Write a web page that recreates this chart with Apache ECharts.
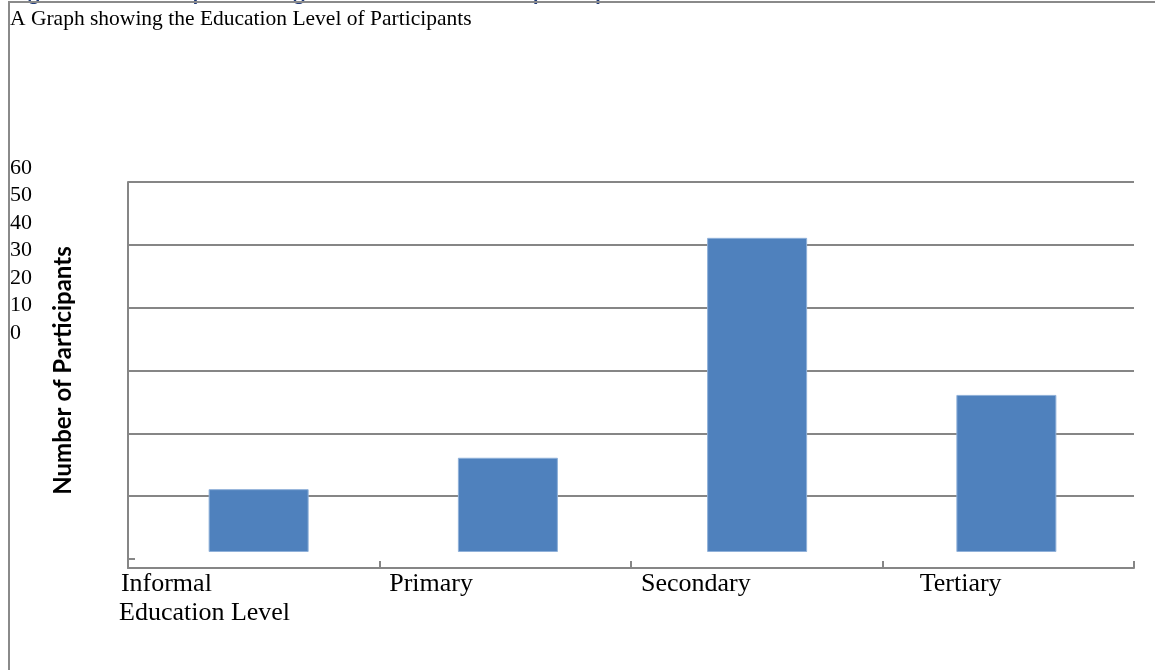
<!DOCTYPE html>
<html>
<head>
<meta charset="utf-8">
<script src="https://cdn.jsdelivr.net/npm/echarts@6/dist/echarts.min.js"></script>
<style>
  html, body { margin: 0; padding: 0; background: #fff; }
  #chart { position: absolute; left: 0; top: 0; width: 1155px; height: 670px; }
  .frameTop { position: absolute; left: 8px; top: 1px; width: 1147px; height: 2px; background: #8a8a8a; }
  .frameLeft { position: absolute; left: 8px; top: 1px; width: 2px; height: 669px; background: #8a8a8a; }
</style>
</head>
<body>
<div id="chart"></div>
<div class="frameTop"></div>
<div class="frameLeft"></div>
<script>
// ---- data ----
var categories = ['Informal', 'Primary', 'Secondary', 'Tertiary'];
var participants = [10, 15, 50, 25];
var yMin = 0;
var yMax = 60;
var yStep = 10;
var chartTitle = 'A Graph showing the Education Level of Participants';
var figureCaption = 'Figure 4.2: Bar Graph showing the Education Level of participants';
var xAxisTitle = 'Education Level';
var yAxisTitle = 'Number of Participants';

// ---- chart ----
var serif = '"Liberation Serif", "Times New Roman", serif';
var gray = '#868686';
var chart = echarts.init(document.getElementById('chart'), null, { renderer: 'canvas' });

chart.setOption({
  backgroundColor: 'transparent',
  animation: false,
  title: [
    { text: figureCaption, left: 10, top: -18, padding: 0,
      textStyle: { fontFamily: 'Lato, sans-serif', fontWeight: 'bold', fontSize: 22, color: '#1F3A7A' } },
    { text: chartTitle, left: 10, top: 8, padding: 0,
      textStyle: { fontFamily: serif, fontWeight: 'normal', fontSize: 21.5, color: '#000' } },
    { text: xAxisTitle, left: 119, top: 600, padding: 0,
      textStyle: { fontFamily: serif, fontWeight: 'normal', fontSize: 26, color: '#000' } }
  ],
  grid: [
    { left: 128, right: 21, top: 182, bottom: 102 },   // frame axes
    { left: 128, right: 21, top: 182, bottom: 111 },   // gridlines
    { left: 134, right: 24, top: 175, bottom: 118 },   // bars
    { left: 10, width: 40, top: 168, bottom: 337 },    // y tick label column
    { left: 34, right: 62, top: 540, bottom: 102 }     // category labels
  ],
  xAxis: [
    { gridIndex: 0, type: 'category', data: categories, boundaryGap: true,
      axisLine: { show: true, lineStyle: { color: gray, width: 2 } },
      axisTick: { show: true, inside: true, length: 7, lineStyle: { color: gray, width: 2 } },
      axisLabel: { show: false }, splitLine: { show: false } },
    { gridIndex: 1, type: 'category', data: categories, show: false },
    { gridIndex: 2, type: 'category', data: categories, show: false },
    { gridIndex: 3, type: 'value', show: false },
    { gridIndex: 4, type: 'category', data: categories,
      axisLine: { show: false }, axisTick: { show: false }, splitLine: { show: false },
      axisLabel: { show: true, interval: 0, margin: 3, fontFamily: serif, fontSize: 26, color: '#000' } }
  ],
  yAxis: [
    { gridIndex: 0, type: 'value', min: yMin, max: yMax,
      axisLine: { show: true, lineStyle: { color: gray, width: 2 } },
      axisTick: { show: false }, axisLabel: { show: false }, splitLine: { show: false } },
    { gridIndex: 1, type: 'value', min: yMin, max: yMax, interval: yStep,
      name: yAxisTitle, nameLocation: 'middle', nameRotate: 90, nameGap: 53,
      nameTextStyle: { fontFamily: 'Lato, sans-serif', fontWeight: 'bold', fontSize: 24, color: '#000' },
      axisLine: { show: false },
      axisTick: { show: true, inside: true, length: 7, lineStyle: { color: gray, width: 2 } },
      axisLabel: { show: false },
      splitLine: { show: true, showMinLine: false, lineStyle: { color: gray, width: 2 } } },
    { gridIndex: 2, type: 'value', min: yMin, max: yMax, show: false },
    { gridIndex: 3, type: 'value', min: yMin, max: yMax, interval: yStep,
      axisLine: { show: false }, axisTick: { show: false }, splitLine: { show: false },
      axisLabel: { show: true, inside: true, margin: 0, fontFamily: serif, fontSize: 22, color: '#000' } },
    { gridIndex: 4, type: 'value', show: false }
  ],
  series: [
    { type: 'bar', xAxisIndex: 2, yAxisIndex: 2, data: participants, barWidth: 100,
      itemStyle: { color: '#4F81BD', borderColor: '#8FB0D9', borderWidth: 1 },
      silent: true }
  ]
});
</script>
</body>
</html>
